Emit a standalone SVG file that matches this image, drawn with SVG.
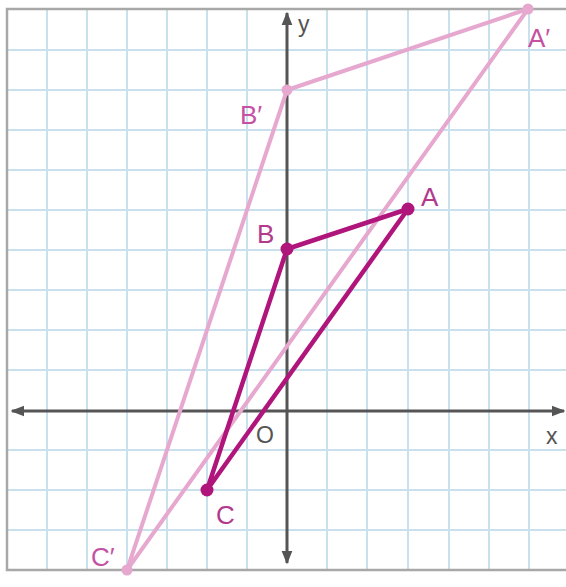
<svg xmlns="http://www.w3.org/2000/svg" width="566" height="587" viewBox="0 0 566 587">
<defs>
<style>
.grid line{stroke:#c9e0ed;stroke-width:2}
.border{stroke:#a8a8a8;stroke-width:2.5;fill:none}
.axis{stroke:#555;stroke-width:3}
.orig{stroke:#b0157c;stroke-width:4.5;fill:none;stroke-linejoin:round}
.img{stroke:#e6a8cf;stroke-width:4;fill:none;stroke-linejoin:round}
.lab{font-family:"Liberation Sans",Arial,sans-serif;font-size:26px}
.labo{fill:#b2398c}
.labi{fill:#c451a2}
.axl{font-family:"Liberation Sans",Arial,sans-serif;font-size:23px;fill:#555}
</style>
<marker id="ah" viewBox="0 0 10 10" refX="9" refY="5" markerWidth="4.5" markerHeight="4.5" orient="auto-start-reverse" markerUnits="strokeWidth">
<path d="M0,1 L10,5 L0,9 z" fill="#555"/>
</marker>
</defs>
<rect width="566" height="587" fill="#ffffff"/>
<g class="grid">
<line x1="47" y1="9" x2="47" y2="570"/><line x1="87" y1="9" x2="87" y2="570"/><line x1="127" y1="9" x2="127" y2="570"/><line x1="167" y1="9" x2="167" y2="570"/><line x1="207" y1="9" x2="207" y2="570"/><line x1="247" y1="9" x2="247" y2="570"/><line x1="327" y1="9" x2="327" y2="570"/><line x1="367" y1="9" x2="367" y2="570"/><line x1="408" y1="9" x2="408" y2="570"/><line x1="449" y1="9" x2="449" y2="570"/><line x1="489" y1="9" x2="489" y2="570"/><line x1="529" y1="9" x2="529" y2="570"/>
<line x1="7" y1="50" x2="566" y2="50"/><line x1="7" y1="90" x2="566" y2="90"/><line x1="7" y1="130" x2="566" y2="130"/><line x1="7" y1="170" x2="566" y2="170"/><line x1="7" y1="210" x2="566" y2="210"/><line x1="7" y1="250" x2="566" y2="250"/><line x1="7" y1="290" x2="566" y2="290"/><line x1="7" y1="330" x2="566" y2="330"/><line x1="7" y1="370" x2="566" y2="370"/><line x1="7" y1="450" x2="566" y2="450"/><line x1="7" y1="490" x2="566" y2="490"/><line x1="7" y1="530" x2="566" y2="530"/>
</g>
<path class="border" d="M566,9 L7,9 L7,570 L566,570"/>
<g id="axes">
<line class="axis" x1="12" y1="411" x2="564" y2="411" marker-start="url(#ah)" marker-end="url(#ah)"/>
<line class="axis" x1="287" y1="13" x2="287" y2="563" marker-start="url(#ah)" marker-end="url(#ah)"/>
<text class="axl" x="298" y="32">y</text>
<text class="axl" x="546" y="444">x</text>
<text class="axl" x="256" y="443">O</text>
</g>
<g id="connectors">
<polygon class="img" points="528,9 287,90 127,570"/>
<polygon class="orig" points="408,209 287,249 207,490"/>
</g>
<g id="nodeA1"><circle cx="528" cy="9" r="5.5" fill="#e6a8cf"/><text class="lab labi" x="528" y="47">A′</text></g>
<g id="nodeB1"><circle cx="287" cy="90" r="5.5" fill="#e6a8cf"/><text class="lab labi" x="240" y="124">B′</text></g>
<g id="nodeC1"><circle cx="127" cy="570" r="5.5" fill="#e6a8cf"/><text class="lab labi" x="91" y="566">C′</text></g>
<g id="nodeA"><circle cx="408" cy="209" r="6.5" fill="#b0157c"/><text class="lab labo" x="421" y="206">A</text></g>
<g id="nodeB"><circle cx="287" cy="249" r="6.5" fill="#b0157c"/><text class="lab labo" x="257" y="243">B</text></g>
<g id="nodeC"><circle cx="207" cy="490" r="6.5" fill="#b0157c"/><text class="lab labo" x="216" y="524">C</text></g>
</svg>
